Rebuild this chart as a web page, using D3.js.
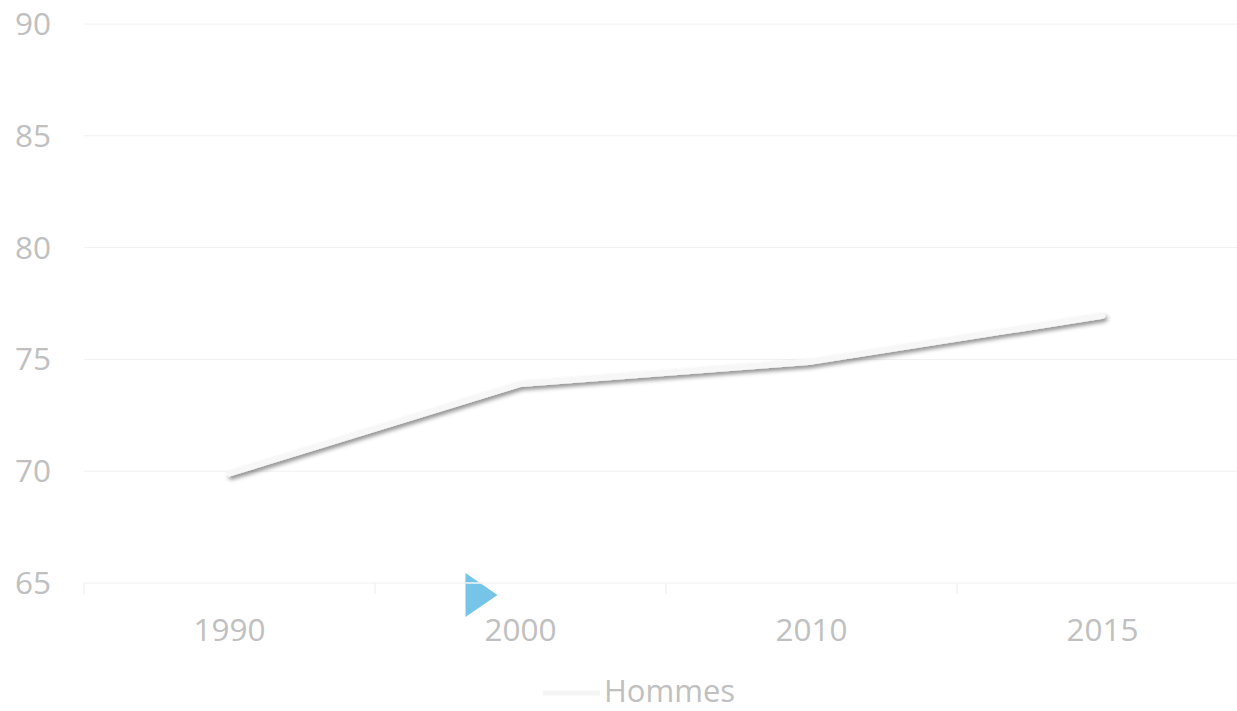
<!DOCTYPE html>
<html>
<head>
<meta charset="utf-8">
<script src="https://cdn.jsdelivr.net/npm/d3@7"></script>
<style>
  body { margin: 0; background: #fff; overflow: hidden; }
  text { font-family: "Open Sans", sans-serif; }
</style>
</head>
<body>
<script>
var years = ["1990", "2000", "2010", "2015"];
var hommes = [69.9, 73.9, 74.9, 76.95];
var yTicks = [65, 70, 75, 80, 85, 90];
var seriesName = "Hommes";

var width = 1237, height = 711;
var margin = {top: 24, right: -11, bottom: 128, left: 84};

var svg = d3.select("body").append("svg")
    .attr("width", width)
    .attr("height", height);

var defs = svg.append("defs");
var shadow = defs.append("filter").attr("id", "shadow")
    .attr("x", "-10%").attr("y", "-50%").attr("width", "120%").attr("height", "200%");
shadow.append("feDropShadow")
    .attr("dx", 2).attr("dy", 3).attr("stdDeviation", 2)
    .attr("flood-color", "#000").attr("flood-opacity", 0.45);

var x = d3.scaleBand().domain(years)
    .range([margin.left, width - margin.right]);
var y = d3.scaleLinear().domain([65, 90])
    .range([height - margin.bottom, margin.top]);

// grid lines
svg.append("g").selectAll("line")
    .data(yTicks)
    .enter().append("line")
    .attr("x1", margin.left)
    .attr("x2", width)
    .attr("y1", function(d) { return y(d); })
    .attr("y2", function(d) { return y(d); })
    .style("stroke", "#f0f0f0")
    .style("stroke-width", 1);

// y labels
svg.append("g").selectAll("text")
    .data(yTicks)
    .enter().append("text")
    .attr("x", 51)
    .attr("y", function(d) { return y(d) + 11; })
    .attr("text-anchor", "end")
    .attr("font-size", "31.5px")
    .attr("fill", "#c0c0c0")
    .text(function(d) { return d; });

// x axis ticks (band boundaries)
var bounds = years.map(function(d) { return x(d); }).concat([x.range()[1]]);
svg.append("g").selectAll("line")
    .data(bounds)
    .enter().append("line")
    .attr("x1", function(d) { return d; })
    .attr("x2", function(d) { return d; })
    .attr("y1", y(65))
    .attr("y2", y(65) + 11)
    .style("stroke", "#ececec")
    .style("stroke-width", 1);

svg.append("g").selectAll("text")
    .data(years)
    .enter().append("text")
    .attr("x", function(d) { return x(d) + x.bandwidth() / 2; })
    .attr("y", y(65) + 58)
    .attr("text-anchor", "middle")
    .attr("font-size", "31.5px")
    .attr("fill", "#c0c0c0")
    .text(function(d) { return d; });

// series line
var line = d3.line()
    .x(function(d, i) { return x(years[i]) + x.bandwidth() / 2; })
    .y(function(d) { return y(d); });

svg.append("path")
    .datum(hommes)
    .attr("d", line)
    .attr("fill", "none")
    .attr("stroke", "#f7f7f7")
    .attr("stroke-width", 6)
    .attr("stroke-linecap", "round")
    .attr("stroke-linejoin", "round")
    .attr("filter", "url(#shadow)");

// play marker
var px = x("2000") + x.bandwidth() / 2 - 55, py = y(65) + 12;
svg.append("path")
    .attr("d", "M" + px + "," + (py - 22) + "L" + (px + 32) + "," + py + "L" + px + "," + (py + 22) + "Z")
    .attr("fill", "#76c5e8");
svg.append("line")
    .attr("x1", px).attr("x2", px + 18)
    .attr("y1", y(65)).attr("y2", y(65))
    .style("stroke", "#f4f4f4").style("stroke-width", 1.5);

// legend
var lg = svg.append("g").attr("transform", "translate(543,693)");
lg.append("line")
    .attr("x1", 0).attr("x2", 57).attr("y1", 0).attr("y2", 0)
    .style("stroke", "#f5f5f5").style("stroke-width", 5);
lg.append("text")
    .attr("x", 61).attr("y", 9)
    .attr("font-size", "31px")
    .attr("fill", "#c0c0c0")
    .text(seriesName);
</script>
</body>
</html>
